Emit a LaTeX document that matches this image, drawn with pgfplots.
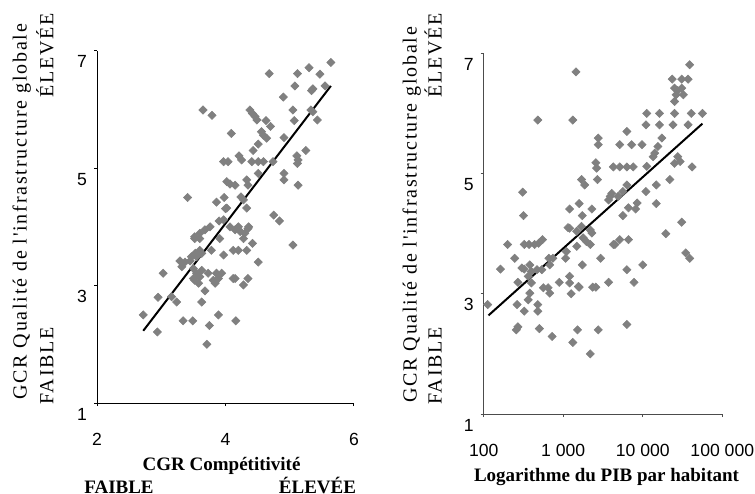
\documentclass[border=0pt]{standalone}
\usepackage{fontspec}
\setmainfont{Liberation Serif}
\newfontfamily\arial{Liberation Sans}
\newfontfamily\spaced[LetterSpace=9]{Liberation Serif}
\usepackage{pgfplots}
\pgfplotsset{compat=1.18}
\definecolor{ptc}{HTML}{808080}
\pgfplotsset{
  myax/.style={
    scale only axis,
    axis x line*=bottom, axis y line*=left,
    tick align=outside, major tick length=1.5pt,
    ymin=1, ymax=7, ytick={1,3,5,7}, yticklabels={1,3,5,7},
    tick label style={font=\arial\fontsize{8.8}{10}\selectfont},
    yticklabel style={anchor=east, inner sep=0pt, xshift=-3.3pt, yshift=-5.5pt},
    xticklabel style={anchor=north, inner sep=0pt, yshift=-13.5pt},
    clip=false,
  },
  pts/.style={only marks, mark=square*, mark size=1.45pt,
    mark options={rotate=45, fill=ptc, draw=ptc, line width=0.3pt}},
}
\begin{document}
\begin{tikzpicture}[x=1pt,y=1pt]
\useasboundingbox (0,0) rectangle (377.5,246.5);
% ---------------- left
\begin{axis}[myax, at={(48.5pt,45pt)}, anchor=south west,
  width=128.5pt, height=176.15pt,
  xmin=2, xmax=6, xtick={2,4,6}, xticklabels={2,4,6},
  axis line style={black, line width=0.5pt}, tick style={black, line width=0.5pt}]
\addplot[pts] coordinates {
(5.64,6.80)(5.30,6.71)(5.47,6.60)(5.12,6.61)(4.68,6.61)(5.55,6.40)(5.36,6.35)(5.34,6.32)
(5.08,6.40)(4.90,6.21)(5.05,5.99)(5.33,5.99)(5.36,5.96)(5.43,5.82)(5.07,5.81)(3.65,5.99)
(3.79,5.90)(4.38,5.99)(4.42,5.93)(4.46,5.88)(4.49,5.82)(4.63,5.81)(4.70,5.71)(4.09,5.59)
(4.56,5.62)(4.59,5.56)(4.64,5.51)(4.91,5.52)(4.51,5.41)(4.43,5.30)(4.21,5.21)(4.25,5.14)
(5.11,5.21)(5.13,5.14)(5.12,5.08)(5.25,5.30)(3.97,5.11)(4.04,5.11)(4.41,5.11)(4.51,5.11)
(4.59,5.11)(4.74,5.11)(4.51,4.91)(4.91,4.91)(4.91,4.80)(5.13,4.71)(4.33,4.80)(4.35,4.71)
(4.02,4.77)(4.07,4.73)(4.15,4.71)(4.24,4.51)(4.28,4.46)(3.41,4.50)(3.98,4.50)(3.86,4.42)
(4.02,4.32)(4.33,4.32)(4.75,4.20)(4.84,4.10)(3.90,4.10)(3.76,4.00)(3.68,3.95)(3.60,3.89)
(3.52,3.80)(3.60,3.80)(3.97,4.12)(4.07,4.00)(4.15,3.95)(4.23,3.92)(4.35,3.97)(3.91,3.80)
(4.28,3.80)(4.42,3.72)(5.05,3.69)(4.00,4.31)(4.20,4.00)(4.36,4.00)(4.30,3.89)
(3.29,3.42)(3.37,3.40)(3.45,3.42)(3.32,3.32)(3.55,3.49)(3.63,3.55)(3.53,3.55)(3.78,3.60)
(3.97,3.52)(4.12,3.60)(4.20,3.60)(4.33,3.60)(4.51,3.40)(3.03,3.21)(3.50,3.29)(3.55,3.21)
(3.60,3.15)(3.50,3.12)(3.58,3.04)(3.73,3.21)(3.94,3.21)(3.89,3.12)(3.84,3.04)(4.12,3.12)
(4.35,3.12)(4.28,3.01)(3.68,2.91)(2.95,2.80)(3.16,2.81)(3.24,2.72)(3.63,2.72)(2.72,2.50)
(3.34,2.40)(3.49,2.40)(3.89,2.50)(4.16,2.40)(2.94,2.21)(3.75,2.32)(3.71,2.00)(3.60,3.60)
(3.52,3.83)(3.47,3.49)(3.63,3.26)(3.81,3.09)(3.86,3.21)(3.52,3.09)(4.15,3.12)
};
\addplot[black, line width=1pt] coordinates {(2.72,2.23)(5.64,6.40)};
\end{axis}
% ---------------- right
\begin{axis}[myax, at={(241.85pt,39.5pt)}, anchor=south west,
  width=119.3pt, height=180.35pt,
  xmin=2, xmax=5, xtick={2,3,4,5}, xticklabels={100,1 000,10 000,100 000},
  axis line style={black!70, line width=0.5pt}, tick style={black!70, line width=0.5pt}]
\addplot[pts] coordinates {
(3.16,6.69)(2.68,5.89)(3.12,5.89)(4.59,6.81)(4.37,6.57)(4.49,6.57)(4.57,6.57)(4.40,6.42)
(4.44,6.38)(4.49,6.42)(4.42,6.31)(4.51,6.31)(4.40,6.20)(4.05,6.00)(4.21,6.00)(4.40,6.00)
(4.61,6.00)(4.75,6.00)(4.04,5.81)(4.21,5.81)(4.38,5.81)(4.57,5.81)(3.80,5.70)(3.44,5.59)
(3.44,5.48)(3.71,5.48)(3.86,5.48)(3.99,5.48)(4.24,5.59)(4.19,5.45)(4.15,5.34)(4.13,5.28)
(4.44,5.28)(4.47,5.20)(4.40,5.17)(4.62,5.11)(3.41,5.18)(3.42,5.09)(3.63,5.11)(3.71,5.11)
(3.80,5.11)(3.88,5.11)(4.05,5.12)(4.34,4.90)(4.17,4.81)(4.04,4.70)(3.80,4.81)(3.75,4.70)
(3.23,4.90)(3.27,4.81)(3.43,4.90)(3.61,4.67)(3.59,4.62)(3.57,4.56)(3.69,4.62)(4.17,4.50)
(3.93,4.51)(3.91,4.41)(3.82,4.43)(3.75,4.30)(4.49,4.19)(4.29,4.00)(3.08,4.41)(3.20,4.50)
(3.24,4.30)(3.36,4.41)(3.08,4.09)(3.17,4.04)(3.23,4.12)(3.34,4.06)(3.36,4.01)(3.25,3.93)
(3.29,3.87)(3.34,3.82)(2.49,4.69)(2.50,4.30)(2.30,3.82)(2.51,3.82)(2.57,3.82)(2.69,3.84)
(2.74,3.90)(3.63,3.82)(3.71,3.90)(3.82,3.90)(2.05,2.82)(2.21,3.41)(2.39,3.59)(2.51,3.41)
(2.58,3.48)(2.60,3.37)(2.56,3.29)(2.67,3.40)(2.73,3.40)(2.43,3.19)(2.60,3.18)(2.58,3.01)
(2.56,2.90)(2.42,2.82)(2.51,2.71)(2.68,2.82)(2.68,2.71)(2.41,2.40)(2.43,2.45)(2.70,2.42)
(2.86,2.29)(2.83,3.48)(2.82,3.59)(2.87,3.59)(2.75,3.10)(2.81,3.10)(2.83,3.01)(2.95,3.19)
(3.08,3.29)(3.08,3.18)(3.10,3.00)(3.03,3.59)(3.04,3.70)(3.17,3.79)(3.20,3.11)(3.24,3.48)
(3.37,3.11)(3.41,3.11)(3.47,3.59)(3.12,2.19)(3.18,2.40)(3.44,2.40)(3.34,2.00)(3.57,3.19)
(3.80,3.40)(3.89,3.19)(3.80,2.49)(4.00,3.48)(4.54,3.68)(4.59,3.59)(3.65,3.82)(3.06,4.10)
(3.19,3.12)(2.64,3.82)(2.48,3.43)
};
\addplot[black, line width=1pt] coordinates {(2.06,2.64)(4.75,5.83)};
\end{axis}
% ---------------- labels
\begin{scope}[every node/.style={inner sep=0pt, font=\spaced\fontsize{10}{12}\selectfont}]
\node[rotate=90, anchor=base west] at (13.3,46.5) {GCR Qualité de l'infrastructure globale};
\node[rotate=90, anchor=base west] at (26.7,44) {FAIBLE};
\node[rotate=90, anchor=base east] at (26.7,240) {ÉLEVÉE};
\node[rotate=90, anchor=base west] at (208.3,45) {GCR Qualité de l'infrastructure globale};
\node[rotate=90, anchor=base west] at (220.8,44) {FAIBLE};
\node[rotate=90, anchor=base east] at (220.8,240) {ÉLEVÉE};
\end{scope}
\begin{scope}[every node/.style={inner sep=0pt, font=\bfseries\fontsize{9.5}{11}\selectfont}]
\node[anchor=base] at (110.8,11.5) {CGR Compétitivité};
\node[anchor=base] at (59.5,-0.3) {FAIBLE};
\node[anchor=base] at (158.75,-0.3) {ÉLEVÉE};
\node[anchor=base] at (303.25,5.7) {Logarithme du PIB par habitant};
\end{scope}
\end{tikzpicture}
\end{document}
